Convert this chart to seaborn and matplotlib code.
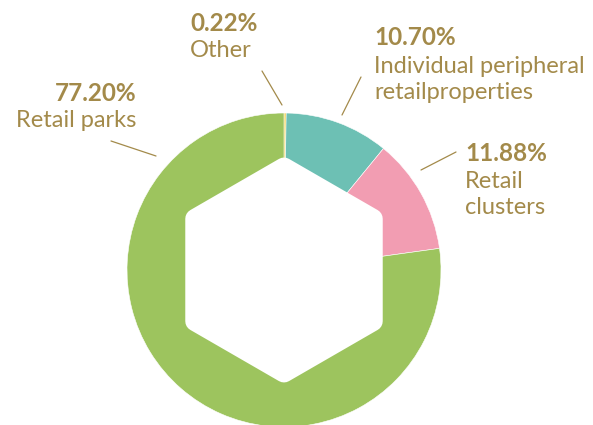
import numpy as np
import matplotlib.pyplot as plt
import seaborn as sns
from matplotlib.patches import Polygon

# data
segments = ["Other", "Individual peripheral\nretailproperties", "Retail\nclusters", "Retail parks"]
shares = [0.22, 10.70, 11.88, 77.20]
seg_colors = ["#F2D04B", "#6DC0B4", "#F29DB2", "#9DC45E"]

sns.set_theme(style="white")
plt.rcParams['font.family'] = ['Lato', 'DejaVu Sans']
text_col = "#A38A4A"

W, H = 593, 425
fig = plt.figure(figsize=(W / 100, H / 100), dpi=100)
ax = fig.add_axes([0, 0, 1, 1])

cx, cy, rad = 284, H - 270, 157
ax.pie(shares, colors=seg_colors, startangle=90, counterclock=False,
       center=(cx, cy), radius=rad, frame=True,
       wedgeprops=dict(edgecolor='white', linewidth=0.4))
ax.set_xlim(0, W)
ax.set_ylim(0, H)
ax.set_aspect('equal')
ax.axis('off')

# white hexagon hole with rounded corners
corner = 10
apothem = 114 * np.cos(np.pi / 6) - corner
circ = apothem / np.cos(np.pi / 6)
ang = np.deg2rad(90 + 60 * np.arange(6))
hex_pts = np.column_stack([cx + circ * np.cos(ang), cy + circ * np.sin(ang)])
ax.add_patch(Polygon(hex_pts, closed=True, facecolor='white', edgecolor='white',
                     linewidth=2 * corner * 0.72, joinstyle='round', zorder=5))


def py(y):
    return H - y


# label layout: x, baseline of pct, baseline of first name line, align, leader line
layout = [
    (190, 31, 57, 'left', (262, 71), (282, 105)),
    (374, 45, 73, 'left', (361, 77), (342, 115)),
    (465, 161, 188, 'left', (456, 152), (421, 170)),
    (136, 101, 127, 'right', (111, 141), (156, 156)),
]
line_gap = 26

for name, val, (x, yp, yn, ha, p0, p1) in zip(segments, shares, layout):
    ax.text(x, py(yp), f"{val:.2f}%", ha=ha, va='baseline', fontsize=17.5,
            fontweight='bold', color=text_col)
    for k, part in enumerate(name.split("\n")):
        ax.text(x, py(yn + k * line_gap), part, ha=ha, va='baseline',
                fontsize=17, color=text_col)
    ax.plot([p0[0], p1[0]], [py(p0[1]), py(p1[1])], color=text_col, linewidth=0.9)

fig.savefig("out.png", dpi=100)
